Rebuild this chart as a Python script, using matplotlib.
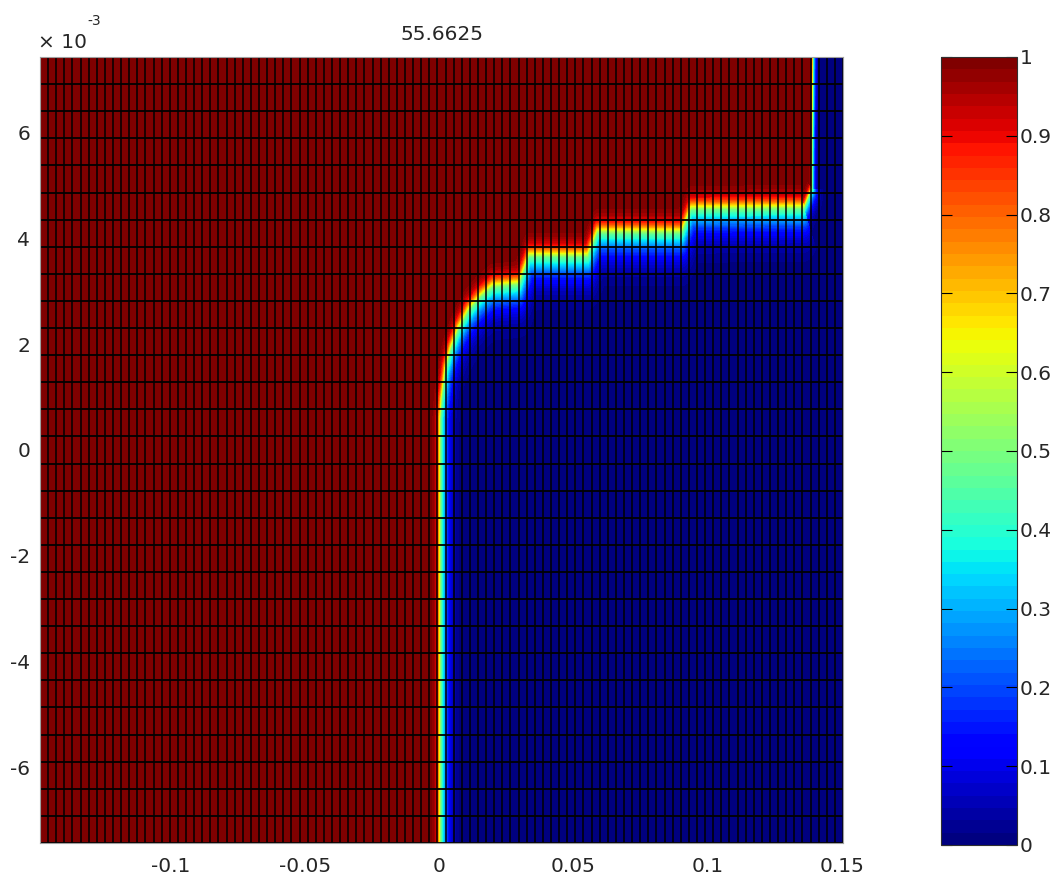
import numpy as np
import matplotlib
matplotlib.use("Agg")
import matplotlib.pyplot as plt
from matplotlib.path import Path

title_text = "55.6625"

# axis extents (y is in units of 1e-3)
x_lim = (-0.1489, 0.1505)
y_lim = (-7.43, 7.43)
n_x_nodes = 100
n_y_nodes = 30

x_ticks = [-0.1, -0.05, 0, 0.05, 0.1, 0.15]
x_tick_labels = ["-0.1", "-0.05", "0", "0.05", "0.1", "0.15"]
y_ticks = [-6, -4, -2, 0, 2, 4, 6]
y_tick_labels = ["-6", "-4", "-2", "0", "2", "4", "6"]
cb_ticks = [0, 0.1, 0.2, 0.3, 0.4, 0.5, 0.6, 0.7, 0.8, 0.9, 1]
cb_tick_labels = ["0", "0.1", "0.2", "0.3", "0.4", "0.5", "0.6", "0.7", "0.8", "0.9", "1"]

# red/blue front (x, y*1e3)
front_x = [0.0005, 0.0005, 0.0010, 0.0024, 0.0043, 0.0071, 0.0108, 0.0153, 0.0198,
           0.0298, 0.0335, 0.0554, 0.0590, 0.0905, 0.0940, 0.1362, 0.1392, 0.1396]
front_y = [-8.0, 0.58, 0.96, 1.53, 1.90, 2.28, 2.62, 2.89, 3.08,
           3.13, 3.66, 3.66, 4.11, 4.11, 4.55, 4.57, 4.95, 8.0]
# how wide the smooth band is along each piece of the front
front_width = [1.0, 1.0, 1.0, 1.0, 1.0, 1.0, 1.0, 1.0, 1.0,
               1.0, 1.0, 1.0, 1.0, 1.0, 1.0, 0.6, 0.35]

# sizes of the figure in pixels
W, H = 1060, 882
ax_l, ax_r, ax_t, ax_b = 40, 843, 57, 843
px_per_x = (ax_r - ax_l) / (x_lim[1] - x_lim[0])
px_per_y = (ax_b - ax_t) / (y_lim[1] - y_lim[0])
y_squash = 0.35

# field on a fine grid: smooth step across the front
nx, ny = ax_r - ax_l, ax_b - ax_t
gx = np.linspace(x_lim[0], x_lim[1], nx)
gy = np.linspace(y_lim[0], y_lim[1], ny)
X, Y = np.meshgrid(gx, gy)
PX = X * px_per_x
PY = Y * px_per_y * y_squash

fx = np.array(front_x) * px_per_x
fy = np.array(front_y) * px_per_y * y_squash
dist = np.full(X.shape, np.inf)
wfac = np.ones(X.shape)
for i in range(len(fx) - 1):
    x0, y0 = fx[i], fy[i]
    vx, vy = fx[i + 1] - x0, fy[i + 1] - y0
    t = np.clip(((PX - x0) * vx + (PY - y0) * vy) / (vx * vx + vy * vy), 0, 1)
    d = np.hypot(PX - (x0 + t * vx), PY - (y0 + t * vy))
    closer = d < dist
    dist = np.where(closer, d, dist)
    wfac = np.where(closer, front_width[i], wfac)

poly = list(zip(front_x, front_y)) + [(-0.3, 8.0), (-0.3, -8.0)]
inside = Path(poly).contains_points(np.column_stack([X.ravel(), Y.ravel()])).reshape(X.shape)
s = np.where(inside, dist, -dist)
field = np.where(s > 0,
                 0.5 + 0.5 * np.tanh(s / (4.0 * wfac)),
                 0.5 + 0.5 * np.tanh(s / (9.0 * wfac)))

fig = plt.figure(figsize=(W / 100, H / 100), dpi=100)
ax = fig.add_axes([ax_l / W, 1 - ax_b / H, (ax_r - ax_l) / W, (ax_b - ax_t) / H])
cax = fig.add_axes([941 / W, 1 - 845 / H, 76 / W, 788 / H])

cmap = plt.get_cmap("jet", 64)
im = ax.imshow(field, extent=[x_lim[0], x_lim[1], y_lim[0], y_lim[1]], origin="lower",
               aspect="auto", cmap=cmap, vmin=0, vmax=1, interpolation="nearest")

xn = np.linspace(x_lim[0], x_lim[1], n_x_nodes)
yn = np.linspace(y_lim[0], y_lim[1], n_y_nodes)
ax.vlines(xn, y_lim[0], y_lim[1], colors="black", linewidth=1.1)
ax.hlines(yn, x_lim[0], x_lim[1], colors="black", linewidth=1.3)
ax.set_xlim(x_lim)
ax.set_ylim(y_lim)

ax.set_xticks(x_ticks)
ax.set_xticklabels(x_tick_labels)
ax.set_yticks(y_ticks)
ax.set_yticklabels(y_tick_labels)
ax.tick_params(length=0, labelsize=14.5, labelcolor="#262626")
ax.tick_params(axis="x", pad=10)
ax.tick_params(axis="y", pad=7)
for sp in ax.spines.values():
    sp.set_color("#a0a0a0")

ax.set_title(title_text, fontsize=14.5, color="#262626", pad=12)
fig.text(38 / W, 1 - 48 / H, "\u00d7 10", fontsize=14.5, color="#262626")
fig.text(87 / W, 1 - 25 / H, "-3", fontsize=10, color="#262626")

cb = fig.colorbar(im, cax=cax, ticks=cb_ticks)
cb.ax.set_yticklabels(cb_tick_labels)
cb.ax.tick_params(direction="in", length=8, left=True, right=True, labelsize=14.5,
                  labelcolor="#262626", pad=2)
cb.outline.set_edgecolor("#303030")

fig.savefig("out.png", dpi=100)
